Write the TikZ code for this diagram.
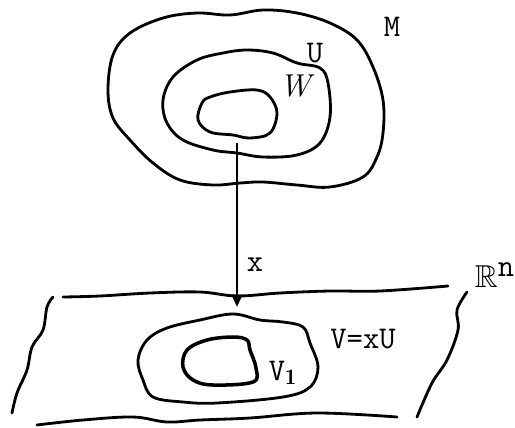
\documentclass[tikz,border=0pt]{standalone}
\usepackage{amssymb}
\usepackage{fontspec}
\usetikzlibrary{arrows.meta}
\tikzset{
  contour/.style={line width=1.6pt,line join=round,line cap=round},
  thickcontour/.style={line width=2pt,line join=round,line cap=round},
  lab/.style={font=\fontsize{18}{20}\selectfont\ttfamily,inner sep=0pt}
}
\begin{document}
\begin{tikzpicture}[x=0.02cm,y=-0.02cm]
\useasboundingbox (0,0) rectangle (515,427);

% Variete M
\draw[contour] plot[smooth cycle,tension=0.6] coordinates {
  (130,33) (163,18) (197,13) (230,15) (263,10) (297,13) (330,23) (357,40)
  (373,67) (383,100) (383,133) (377,157) (363,177) (330,187) (297,185)
  (263,182) (240,183) (213,185) (180,180) (153,163) (130,140) (113,118)
  (108,90) (113,55)};
\draw[contour] plot[smooth cycle,tension=0.6] coordinates {
  (197,60) (173,77) (163,100) (167,123) (183,140) (213,150) (237,153)
  (263,157) (297,155) (320,143) (330,117) (328,83) (320,68) (297,63)
  (273,53) (247,50) (223,53)};
\draw[contour] plot[smooth cycle,tension=0.6] coordinates {
  (202,103) (198,120) (210,132) (233,135) (250,138) (270,133) (277,113)
  (270,97) (257,90) (230,92) (210,97)};

\node[lab] (M) at (392,27) {M};
\node[lab] (U) at (315,53) {U};
\node[lab,font=\fontsize{18}{20}\selectfont\itshape] (W) at (295,86) {W};

% Carte x
\coordinate (src) at (237,143);
\coordinate (tip) at (237,307);
\draw[line width=1.5pt,-{Triangle[length=7pt,width=6pt]}] (src) -- (tip);
\node[lab] (x) at (255,265) {x};

% Plan R^n
\draw[contour] plot[smooth,tension=0.6] coordinates {
  (63,297) (100,296) (150,293) (200,292) (237,296) (280,293) (330,291)
  (380,291) (448,286)};
\draw[contour] plot[smooth,tension=0.6] coordinates {
  (53,297) (47,307) (43,330) (32,347) (27,370) (17,393) (12,413)};
\draw[contour] plot[smooth,tension=0.6] coordinates {
  (37,425) (83,420) (133,417) (167,422) (200,420) (250,418) (317,413)
  (397,417)};
\draw[contour] plot[smooth,tension=0.6] coordinates {
  (467,292) (457,310) (458,330) (447,360) (432,383) (417,417)};

\draw[contour] plot[smooth cycle,tension=0.6] coordinates {
  (233,314) (200,320) (167,328) (147,340) (138,360) (143,380) (153,397)
  (183,402) (217,403) (283,397) (310,387) (318,367) (310,343) (303,327)
  (283,322) (260,320)};
\draw[thickcontour] plot[smooth cycle,tension=0.6] coordinates {
  (187,350) (183,367) (193,380) (213,385) (253,382) (256,368) (250,350)
  (247,340) (233,337) (207,340)};

\node[lab] (V) at (363,339) {V=xU};
\node[lab] (V1) at (283,373) {V$_{\mathbf{1}}$};
\node[lab] (Rn) at (495,275) {$\mathbb{R}^{\texttt{n}}$};
\end{tikzpicture}
\end{document}
